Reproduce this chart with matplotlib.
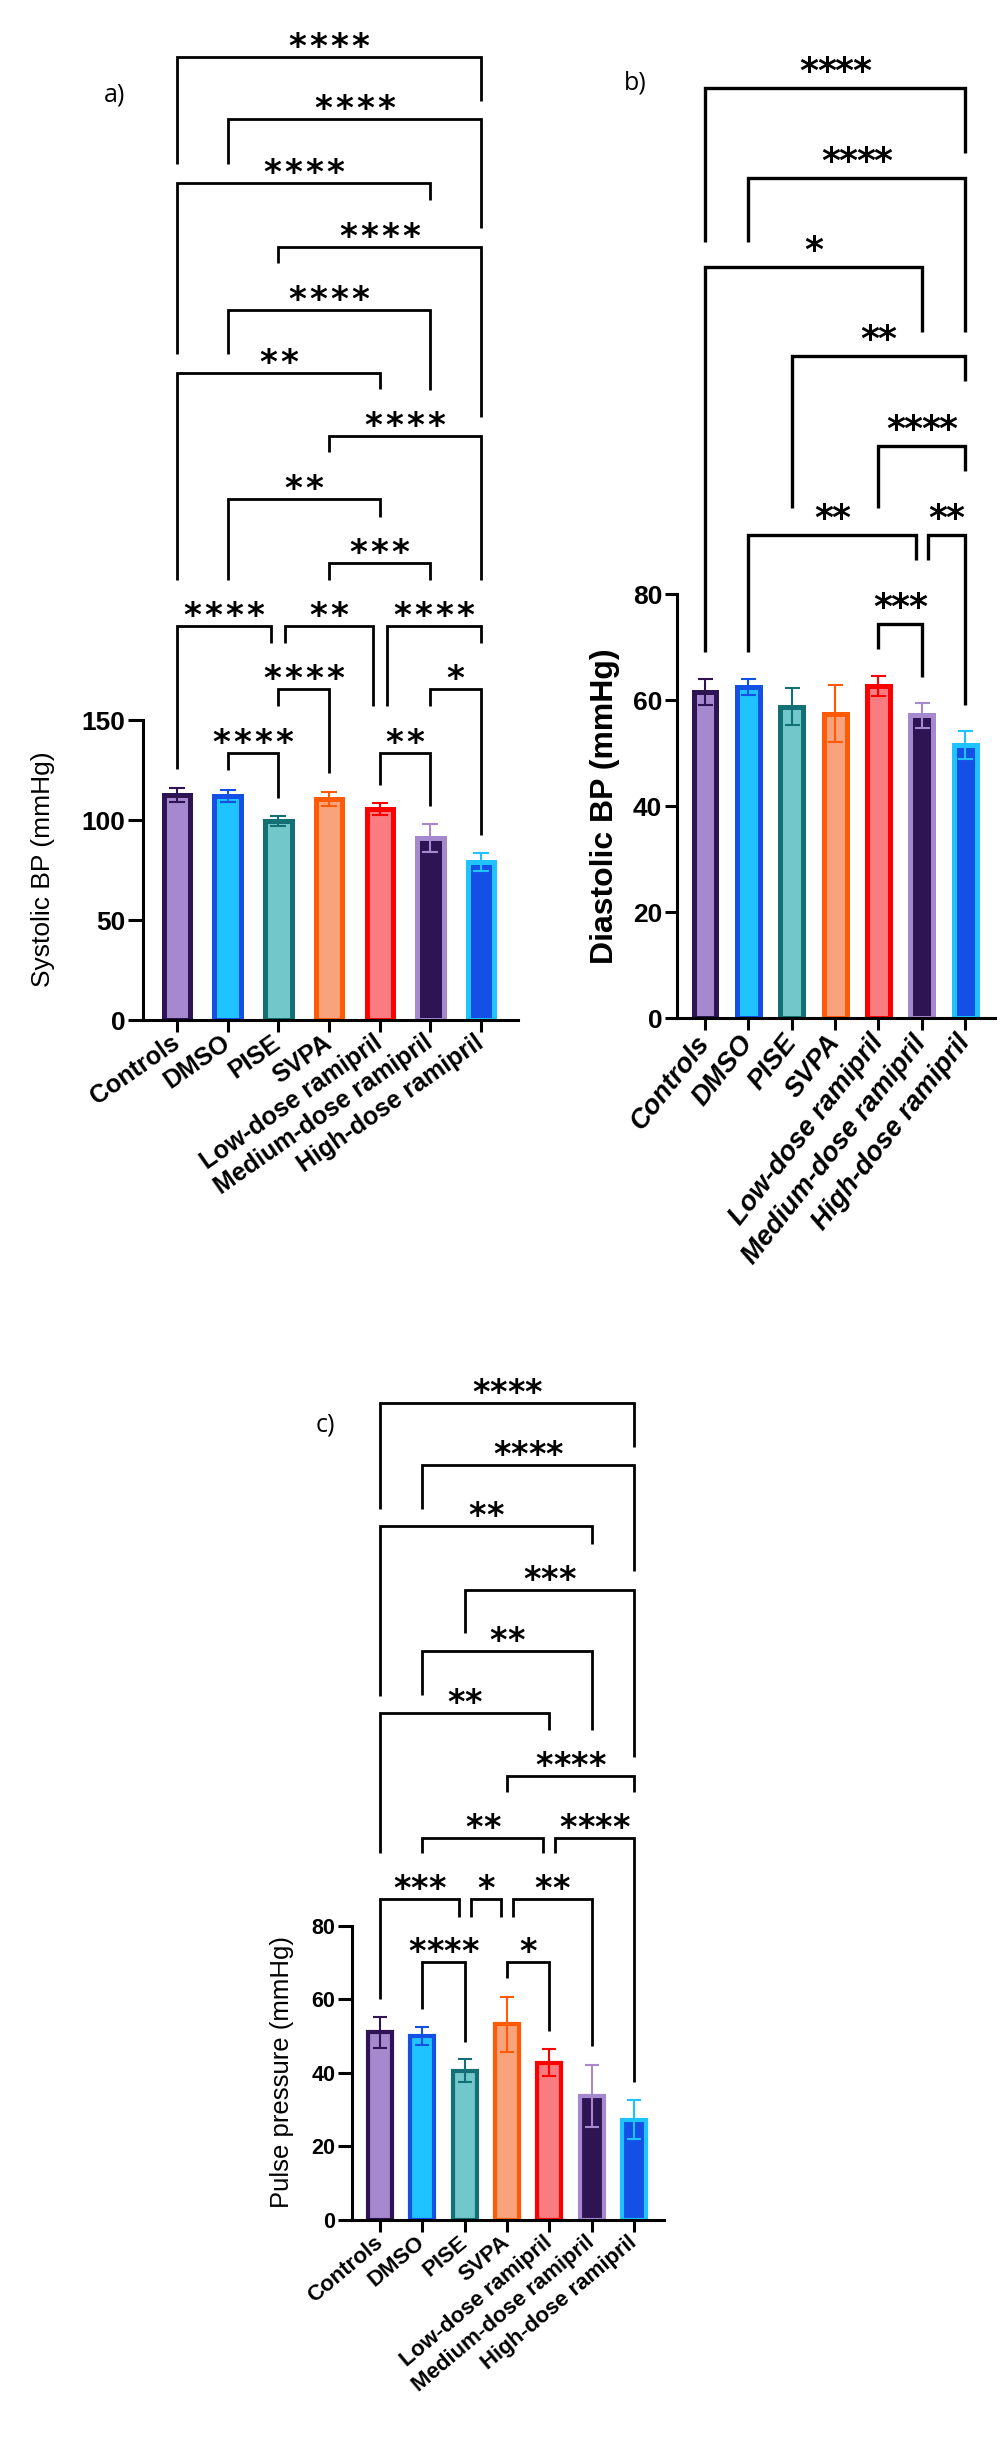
import numpy as np
import matplotlib
matplotlib.use("Agg")
import matplotlib.pyplot as plt

# Groups and colours (same for all three panels)
groups = ["Controls", "DMSO", "PISE", "SVPA", "Low-dose ramipril",
          "Medium-dose ramipril", "High-dose ramipril"]
fill_colors = ["#A688CF", "#1EC3FF", "#72C7CB", "#F9A37C", "#F97C80", "#2E1452", "#1450E6"]
edge_colors = ["#2E1452", "#1450E6", "#137176", "#FF5A05", "#FF0000", "#A688CF", "#1EC3FF"]

# Bar values (mean and error)
systolic_mean = [112.5, 112, 99.5, 110.5, 105.5, 91, 79]
systolic_err = [3.5, 3, 2.5, 3.7, 2.8, 7, 4.5]
diastolic_mean = [61.5, 62.5, 58.7, 57.4, 62.6, 57.1, 51.5]
diastolic_err = [2.5, 1.5, 3.5, 5.4, 1.9, 2.4, 2.6]
pulse_mean = [51, 50.1, 40.6, 53.2, 42.8, 33.8, 27.3]
pulse_err = [4.2, 2.5, 3.1, 7.5, 3.7, 8.4, 5.3]

# Significance brackets: (group a, group b, height, left leg end, right leg end, stars, nudge a, nudge b)
systolic_brackets = [
    (0, 6, 481.5, 428, 459.5, "****", 0, 0),
    (1, 6, 450.5, 428, 396, "****", 0, 0),
    (0, 5, 418.5, 333, 410, "****", 0, 0),
    (2, 6, 386.5, 378.5, 301.5, "****", 0, 0),
    (1, 5, 355, 333, 315, "****", 0, 0),
    (0, 4, 323.5, 220, 315.5, "**", 0, 0),
    (3, 6, 292, 284, 220, "****", 0, 0),
    (1, 4, 260.5, 220, 251.5, "**", 0, 0),
    (3, 5, 228.5, 220, 220, "***", 0, 0),
    (0, 2, 197, 125.5, 188.5, "****", 0, -1),
    (2, 4, 197, 188.5, 157, "**", 1, -1),
    (4, 6, 197, 157, 188.5, "****", 1, 0),
    (2, 3, 165.5, 157, 123.5, "****", 0, 0),
    (5, 6, 165.5, 157, 92.5, "*", 0, 0),
    (1, 2, 133.5, 125, 111, "****", 0, 0),
    (4, 5, 133.5, 117.5, 107, "**", 0, 0),
]
diastolic_brackets = [
    (0, 6, 175.5, 146.4, 163.2, "****", 0, 0),
    (1, 6, 158.5, 146.4, 129.4, "****", 0, 0),
    (0, 5, 141.7, 69.1, 129.4, "*", 0, 0),
    (2, 6, 124.9, 96.2, 120.2, "**", 0, 0),
    (4, 6, 107.9, 96.2, 103.2, "****", 0, 0),
    (1, 5, 91.1, 69.1, 86.4, "**", 0, -1),
    (5, 6, 91.1, 86.4, 59.1, "**", 1, 0),
    (4, 5, 74.3, 69.6, 64.3, "***", 0, 0),
]
pulse_brackets = [
    (0, 6, 222.3, 193.5, 210.3, "****", 0, 0),
    (1, 6, 205.4, 193.5, 176.6, "****", 0, 0),
    (0, 5, 188.8, 142.6, 183.9, "**", 0, 0),
    (2, 6, 171.4, 159.7, 126.0, "***", 0, 0),
    (1, 5, 154.8, 142.9, 133.3, "**", 0, 0),
    (0, 4, 138.0, 99.9, 133.3, "**", 0, 0),
    (3, 6, 120.8, 116.5, 116.5, "****", 0, 0),
    (1, 4, 103.9, 99.9, 99.9, "**", 0, -1),
    (4, 6, 103.9, 99.9, 37.6, "****", 1, 0),
    (0, 2, 87.3, 60.1, 82.4, "***", 0, -1),
    (2, 3, 87.3, 82.4, 82.4, "*", 1, -1),
    (3, 5, 87.3, 82.4, 47.3, "**", 1, 0),
    (1, 2, 70.2, 57.4, 48.4, "****", 0, 0),
    (3, 4, 70.2, 65.9, 51.4, "*", 0, 0),
]

W, H = 1000, 2444
fig = plt.figure(figsize=(W / 100, H / 100), dpi=100)


def pixel_axes(left, top, right, bottom):
    return fig.add_axes([left / W, 1 - bottom / H, (right - left) / W, (bottom - top) / H])


def draw_panel(ax, means, errs, brackets, ylim, xlim, yticks, ylabel, ylabel_pos, st):
    x = np.arange(len(groups))
    ax.bar(x, means, width=st["bar_w"], color=fill_colors, edgecolor=edge_colors,
           linewidth=st["bar_lw"], zorder=2)
    for i in x:
        ax.errorbar(i, means[i], yerr=errs[i], fmt="none", ecolor=edge_colors[i],
                    elinewidth=1.5, capsize=st["cap"], capthick=1.5, zorder=3)

    # brackets with stars
    for a, b, h, la, lb, stars, na, nb in brackets:
        xa = a + na * 0.14
        xb = b + nb * 0.14
        ax.plot([xa, xa, xb, xb], [la, h, h, lb], color="black", lw=st["br_lw"],
                solid_joinstyle="miter", solid_capstyle="butt", clip_on=False, zorder=4)
        xc = (xa + xb) / 2
        n = len(stars)
        for k in range(n):
            ax.annotate("*", xy=(xc, h), xytext=((k - (n - 1) / 2) * st["star_dx"], st["star_dy"]),
                        textcoords="offset points", ha="center", va="baseline",
                        fontsize=st["star_fs"], fontweight="bold", family="DejaVu Sans",
                        annotation_clip=False)

    ax.set_xlim(xlim)
    ax.set_ylim(ylim)
    ax.set_xticks(x)
    ax.set_xticklabels(groups, rotation=st["rot"], ha="right", va="center",
                       rotation_mode="anchor", fontsize=st["xfs"], fontweight="bold",
                       fontstyle=st["xstyle"], family=st["font"])
    ax.set_yticks(yticks)
    ax.set_yticklabels([str(t) for t in yticks], fontsize=st["yfs"], fontweight="bold",
                       family=st["font"])
    ax.tick_params(axis="x", length=8.6, width=2.2, pad=st["xpad"])
    ax.tick_params(axis="y", length=st["ytl"], width=2.2, pad=2)
    for s in ["top", "right"]:
        ax.spines[s].set_visible(False)
    ax.spines["left"].set_bounds(0, yticks[-1])
    ax.spines["left"].set_linewidth(2.2)
    ax.spines["bottom"].set_linewidth(2.2)
    ax.set_ylabel(ylabel, fontsize=st["ylfs"], fontweight=st["ylw"], family=st["font"],
                  va="center", ha="center")
    ax.yaxis.set_label_coords(*ylabel_pos)
    ax.patch.set_alpha(0)


# a) Systolic
ax_a = pixel_axes(143, 20, 518, 1020)
draw_panel(ax_a, systolic_mean, systolic_err, systolic_brackets,
           (0, 500), (-0.671, 6.73), [0, 50, 100, 150], "Systolic BP (mmHg)",
           ((43 - 143) / 375, (1020 - 869) / 1000),
           dict(bar_w=0.52, bar_lw=3.6, cap=6, br_lw=2.0, star_dx=15.1, star_dy=0,
                star_fs=24.5, rot=35, xfs=18, xstyle="normal", font="Liberation Sans",
                yfs=19, ytl=10.8, xpad=6, ylfs=19, ylw="normal"))

# b) Diastolic
ax_b = pixel_axes(677, 37.5, 995, 1018)
draw_panel(ax_b, diastolic_mean, diastolic_err, diastolic_brackets,
           (0, 185), (-0.646, 6.69), [0, 20, 40, 60, 80], "Diastolic BP (mmHg)",
           ((605 - 677) / 318, (1018 - 806) / 980.5),
           dict(bar_w=0.53, bar_lw=3.6, cap=5.4, br_lw=2.4, star_dx=12.6, star_dy=4.3,
                star_fs=26, rot=52, xfs=19.5, xstyle="italic",
                font=["Liberation Sans Narrow", "Liberation Sans"],
                yfs=19, ytl=8.6, xpad=6, ylfs=23, ylw="bold"))

# c) Pulse pressure
ax_c = pixel_axes(352, 1356, 664, 2220)
draw_panel(ax_c, pulse_mean, pulse_err, pulse_brackets,
           (0, 235), (-0.662, 6.71), [0, 20, 40, 60, 80], "Pulse pressure (mmHg)",
           ((282 - 352) / 312, (2220 - 2072) / 864),
           dict(bar_w=0.57, bar_lw=3.0, cap=4.8, br_lw=2.0, star_dx=12.6, star_dy=0,
                star_fs=24, rot=40, xfs=16, xstyle="normal", font="Liberation Sans",
                yfs=15.5, ytl=10, xpad=6, ylfs=18.5, ylw="normal"))

# panel letters
for lab, px, py in [("a)", 115, 95), ("b)", 635, 83), ("c)", 325, 1425)]:
    fig.text(px / W, 1 - py / H, lab, fontsize=18, family="Open Sans", ha="center", va="center")

fig.savefig("out.png", dpi=100)
